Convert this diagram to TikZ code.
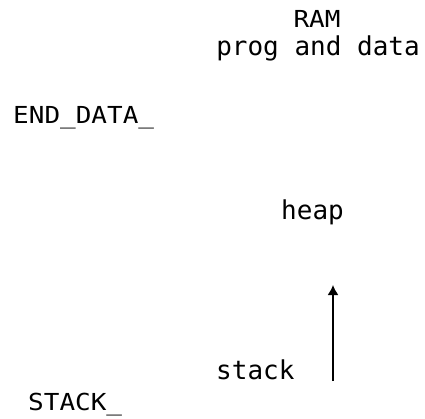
\documentclass[tikz,border=0pt]{standalone}
\usepackage{fontspec}
\setmonofont{DejaVu Sans Mono}
\usetikzlibrary{arrows.meta}
\begin{document}
\begin{tikzpicture}[x=1pt,y=1pt,
  lbl/.style={inner sep=0pt, anchor=base west, font=\fontsize{26}{30}\selectfont\ttfamily},
  clbl/.style={inner sep=0pt, anchor=base, font=\fontsize{26}{30}\selectfont\ttfamily},
  upar/.style={line width=1.6pt, -{Latex[length=10pt,width=11pt]}}]
\useasboundingbox (0,0) rectangle (425,418);
\node[clbl] (ram) at (317,418-28) {\scalebox{1}[0.9]{RAM}};
\node[clbl] (prog) at (318,418-56) {prog and data};
\node[lbl] (end) at (13,418-124) {\scalebox{1}[0.9]{END\_DATA\_}};
\node[lbl] (heap) at (281,418-219) {heap};
\node[lbl] (stack) at (216,418-379) {stack};
\node[lbl] (STACK) at (28,418-410) {\scalebox{1}[0.9]{STACK\_}};
\coordinate (a0) at (333,418-381);
\coordinate (a1) at (333,418-285);
\draw[upar] (a0) -- (a1);
\end{tikzpicture}
\end{document}
